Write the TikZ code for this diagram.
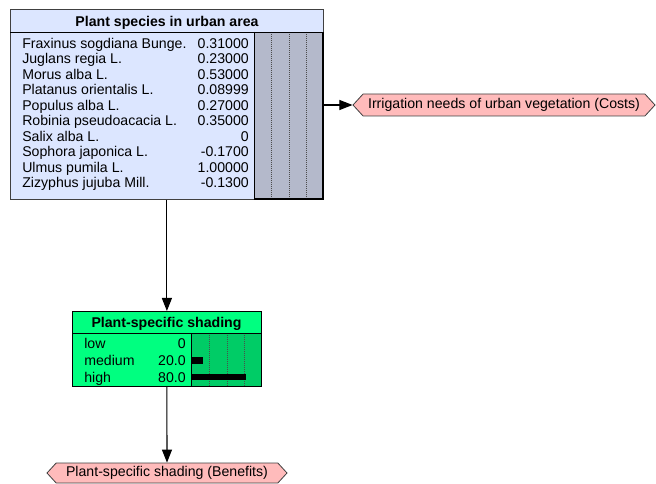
\documentclass[tikz,border=0pt]{standalone}
\usepackage{fontspec}
\setmainfont{Liberation Sans}
\usetikzlibrary{arrows.meta,shapes.symbols}
\definecolor{boxblue}{HTML}{DCE6FF}
\definecolor{bargray}{HTML}{B4B9CB}
\definecolor{lightgreen}{HTML}{00FF80}
\definecolor{bargreen}{HTML}{00CC66}
\definecolor{tagpink}{HTML}{FFBBBB}
\def\pxu{0.75pt}
\begin{document}
\begin{tikzpicture}[x=0.75pt,y=-0.75pt,
  font=\fontsize{10.6}{12}\selectfont,
  link/.style={draw=black, line width=0.8pt, -{Triangle[length=9.75pt,width=7.5pt]}},
  tagnode/.style={signal, signal to=west and east, signal pointer angle=95,
     fill=tagpink, draw=black!75, line width=0.6pt, inner sep=0pt},
  lab/.style={anchor=base west, inner sep=0pt},
  val/.style={anchor=base east, inner sep=0pt},
  dotline/.style={densely dotted, line width=0.5pt, black!70}]
\useasboundingbox (0,0) rectangle (656,484);

% --- Plant species box
\node[draw=black!75, line width=0.6pt, fill=boxblue, minimum width=313*\pxu, minimum height=190*\pxu,
      inner sep=0pt, anchor=north west] (species) at (10,9) {};
\fill[bargray] (254,32) rectangle (323,199);
\foreach \xx in {271,289,306} \draw[dotline] (\xx,32) -- (\xx,199);
\draw[line width=0.6pt] (10,32) -- (323,32);
\draw[line width=0.6pt] (254,32) -- (254,199);
\draw[line width=1.4pt] (254,199) -- (323,199) -- (323,32);
\node[anchor=base, inner sep=0pt, font=\fontsize{10.6}{12}\selectfont\bfseries] (speciestitle) at (167,26.5) {Plant species in urban area};
\foreach \lb/\vl [count=\i from 0] in {Fraxinus sogdiana Bunge./0.31000, Juglans regia L./0.23000,
   Morus alba L./0.53000, Platanus orientalis L./0.08999, Populus alba L./0.27000,
   Robinia pseudoacacia L./0.35000, Salix alba L./0, Sophora japonica L./-0.1700,
   Ulmus pumila L./1.00000, Zizyphus jujuba Mill./-0.1300}{
  \node[lab] (sl\i) at (22,{48.3+15.5*\i}) {\lb};
  \node[val] (sv\i) at (249,{48.3+15.5*\i}) {\vl};
}

% --- Plant-specific shading box
\node[draw=black, line width=0.6pt, fill=lightgreen, minimum width=189*\pxu, minimum height=75*\pxu,
      inner sep=0pt, anchor=north west] (shading) at (72,311) {};
\fill[bargreen] (191,333) rectangle (261,386);
\foreach \xx in {209,227,244} \draw[dotline] (\xx,333) -- (\xx,386);
\draw[line width=0.6pt] (72,333) -- (261,333);
\draw[line width=0.6pt] (191,333) -- (191,386);
\draw[line width=0.6pt] (72,311) rectangle (261,386);
\fill[black] (191,357) rectangle (203,363.5);
\fill[black] (191,373.5) rectangle (246,380);
\node[anchor=base, inner sep=0pt, font=\fontsize{10.6}{12}\selectfont\bfseries] (shadingtitle) at (166.5,328) {Plant-specific shading};
\foreach \lb/\vl/\yy [count=\i from 0] in {low/0/349, medium/20.0/365.5, high/80.0/382}{
  \node[lab] (hl\i) at (84,\yy) {\lb};
  \node[val] (hv\i) at (186,\yy) {\vl};
}

% --- utility nodes
\node[tagnode, minimum width=302*\pxu, minimum height=22*\pxu] (irr) at (504,105)
  {Irrigation needs of urban vegetation (Costs)};
\node[tagnode, minimum width=240*\pxu, minimum height=20*\pxu] (ben) at (167,473)
  {Plant-specific shading (Benefits)};

% --- connectors
\draw[link] (species.south) -- (shading.north);
\draw[link] (shading.south) -- (ben.north);
\draw[link] (species.east |- irr.west) -- (irr.west);
\end{tikzpicture}
\end{document}
